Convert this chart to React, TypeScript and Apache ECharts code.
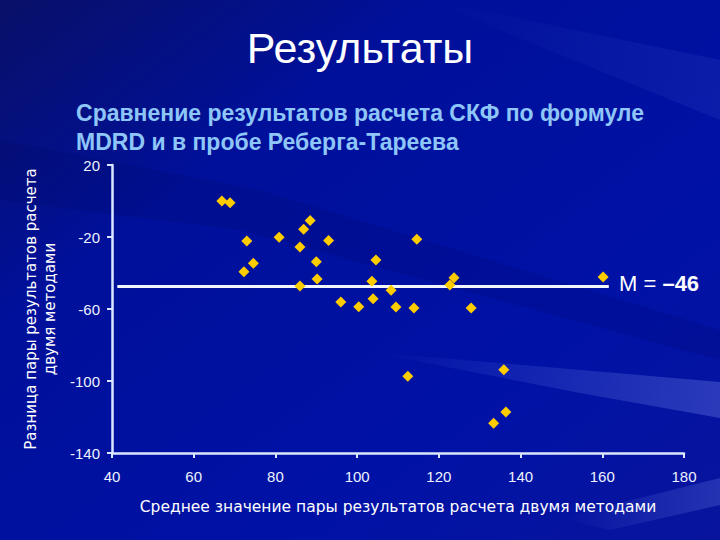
import React, { useEffect, useRef } from "react";
import * as echarts from "echarts";

const titleText = "Результаты";
const subtitleLines = ["Сравнение результатов расчета СКФ по формуле", "MDRD и в пробе Реберга-Тареева"];
const xAxisName = "Среднее значение пары результатов расчета двумя методами";
const yAxisName = "Разница пары результатов расчета\nдвумя методами";
const meanLabel = "M = ";
const meanValueLabel = "–46";
const meanLineY = -47.5;
const meanLineX = [41.3, 161.6];

const meanX = [66.9, 68.9, 73.0, 80.9, 88.5, 86.9, 86.0, 93.0, 74.6, 72.3, 90.0, 90.2, 86.0, 96.0, 100.4, 114.6, 104.6, 103.6, 108.3, 103.9, 123.7, 122.7, 160.2, 109.5, 113.9, 127.9, 112.4, 135.9, 136.4, 133.4];
const diffY = [0, -1, -22.2, -20.2, -10.9, -15.7, -25.6, -22, -34.6, -39.3, -33.7, -43.3, -47.2, -56.1, -58.7, -21.3, -32.8, -44.6, -49.6, -54.3, -42.6, -46.7, -42.2, -58.9, -59.4, -59.4, -97.4, -93.7, -117.2, -123.5];

const xMin = 40, xMax = 180, xStep = 20;
const yMin = -140, yMax = 20, yStep = 40;

const tickFont = "'Liberation Sans Narrow', 'Liberation Sans', Arial, sans-serif";

export default function App() {
  const ref = useRef<HTMLDivElement>(null);
  useEffect(() => {
    if (!ref.current) return;
    const chart = echarts.init(ref.current, null, { renderer: "svg" });
    const axisColor = "#dbe6ff";
    const points = meanX.map((x, i) => [x, diffY[i]]);
    const streak = (a: number) => ({
      type: "linear", x: 0, y: 0, x2: 1, y2: 0,
      colorStops: [{ offset: 0, color: "rgba(140,160,255,0)" }, { offset: 1, color: `rgba(140,160,255,${a})` }],
    });
    chart.setOption({
      animation: false,
      backgroundColor: {
        type: "linear", x: 0, y: 0, x2: 1, y2: 1,
        colorStops: [
          { offset: 0, color: "#081068" },
          { offset: 0.3, color: "#00109a" },
          { offset: 0.7, color: "#0012a6" },
          { offset: 1, color: "#08149c" },
        ],
      },
      graphic: [
        {
          type: "polygon", silent: true, z: -10,
          shape: { points: [[0, 140], [260, 190], [720, 330], [720, 360], [240, 230], [0, 200]] },
          style: { fill: "rgba(0,0,70,0.12)" },
        },
        {
          type: "polygon", silent: true, z: -10,
          shape: { points: [[370, 352], [720, 382], [720, 418], [580, 393]] },
          style: { fill: streak(0.28) },
        },
        {
          type: "polygon", silent: true, z: -10,
          shape: { points: [[560, 518], [720, 478], [720, 505], [610, 530]] },
          style: { fill: streak(0.22) },
        },
        {
          type: "polygon", silent: true, z: -10,
          shape: { points: [[430, 0], [720, 60], [720, 120], [500, 30]] },
          style: { fill: streak(0.08) },
        },
        {
          type: "text", left: "center", top: 26,
          style: { text: titleText, fill: "#ffffff", font: "43px 'Liberation Sans', Arial, sans-serif" },
        },
        {
          type: "text", left: "center", top: 98,
          style: {
            text: subtitleLines.join("\n"), fill: "#8fc6f8", align: "center", lineHeight: 29,
            font: "bold 23px 'Liberation Sans', Arial, sans-serif",
          },
        },
        {
          type: "text", left: 619, top: 272,
          style: {
            text: "{n|" + meanLabel + "}{b|" + meanValueLabel + "}",
            rich: {
              n: { fill: "#ffffff", fontSize: 22, fontFamily: "'Liberation Sans', Arial, sans-serif" },
              b: { fill: "#ffffff", fontSize: 22, fontWeight: "bold", fontFamily: "'Liberation Sans', Arial, sans-serif" },
            },
          },
        },
      ],
      grid: { left: 112, right: 36, top: 165, bottom: 87 },
      xAxis: {
        type: "value", min: xMin, max: xMax, interval: xStep,
        name: xAxisName, nameLocation: "middle", nameGap: 46,
        nameTextStyle: { color: "#ffffff", fontSize: 15.5, fontFamily: "'DejaVu Sans', sans-serif" },
        axisLine: { show: true, onZero: false, lineStyle: { color: axisColor, width: 2.5 } },
        axisTick: { show: true, inside: false, length: 5, lineStyle: { color: axisColor, width: 2 } },
        axisLabel: { color: "#eef2ff", fontSize: 15, margin: 16, fontFamily: tickFont },
        splitLine: { show: false },
      },
      yAxis: {
        type: "value", min: yMin, max: yMax, interval: yStep,
        name: yAxisName, nameLocation: "middle", nameGap: 45, nameRotate: 90,
        nameTextStyle: { color: "#ffffff", fontSize: 15, lineHeight: 19, fontFamily: "'DejaVu Sans', sans-serif", align: "center" },
        axisLine: { show: true, onZero: false, lineStyle: { color: axisColor, width: 2.5 } },
        axisTick: { show: true, inside: false, length: 5, lineStyle: { color: axisColor, width: 2 } },
        axisLabel: { color: "#eef2ff", fontSize: 15, margin: 12, fontFamily: tickFont },
        splitLine: { show: false },
      },
      series: [
        {
          type: "line", data: meanLineX.map((x) => [x, meanLineY]), symbol: "none", z: 1,
          lineStyle: { color: "#f4f6ff", width: 3 },
        },
        {
          type: "scatter", data: points, symbol: "diamond", symbolSize: 11, z: 2,
          itemStyle: { color: "#ffcc00", opacity: 1 },
        },
      ],
    });
    return () => chart.dispose();
  }, []);
  return <div ref={ref} style={{ position: "fixed", left: 0, top: 0, width: 720, height: 540 }} />;
}
